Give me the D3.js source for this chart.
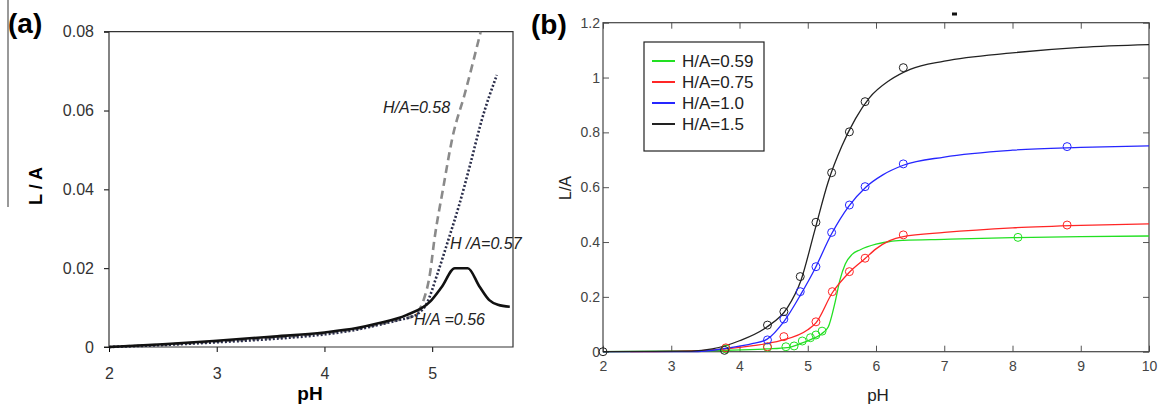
<!DOCTYPE html>
<html>
<head>
<meta charset="utf-8">
<script src="https://cdn.jsdelivr.net/npm/d3@7"></script>
<style>
  body { margin: 0; background: #fff; }
  svg { display: block; font-family: "Liberation Sans", Arial, sans-serif; }
</style>
</head>
<body>
<svg id="chart" width="1164" height="409"></svg>
<script>
// ---- panel (a) data ----
const phA56 = [2, 2.5, 3, 3.5, 4, 4.3, 4.5, 4.76, 4.98, 5.09, 5.21, 5.33, 5.44, 5.53, 5.61, 5.72];
const laA56 = [0, 0.0007, 0.0016, 0.0026, 0.0037, 0.0048, 0.006, 0.0081, 0.0115, 0.0153, 0.02, 0.02, 0.0153, 0.0119, 0.0107, 0.0102];

const phA57 = [2, 2.5, 3, 3.5, 4, 4.3, 4.5, 4.7, 4.8, 4.87, 4.95, 5.05, 5.15, 5.25, 5.35, 5.46, 5.6];
const laA57 = [0, 0.0005, 0.0012, 0.002, 0.0032, 0.0044, 0.0056, 0.0069, 0.0076, 0.0085, 0.0111, 0.0187, 0.0272, 0.036, 0.046, 0.0576, 0.069];

const phA58 = [2, 2.5, 3, 3.5, 4, 4.3, 4.5, 4.7, 4.82, 4.92, 4.98, 5.02, 5.1, 5.19, 5.3, 5.45];
const laA58 = [0, 0.0006, 0.0014, 0.0023, 0.0035, 0.0046, 0.0057, 0.007, 0.0078, 0.0119, 0.0187, 0.0272, 0.04, 0.0534, 0.064, 0.08];

const xTicksA = [2, 3, 4, 5];
const yTicksA = [0, 0.02, 0.04, 0.06, 0.08];
const labelsA = ['H/A=0.58', 'H /A=0.57', 'H/A =0.56'];

// ---- panel (b) data ----
const seriesB = ['H/A=0.59', 'H/A=0.75', 'H/A=1.0', 'H/A=1.5'];
const colorsB = ['#22e022', '#ff2626', '#2626ff', '#222222'];

const phG = [2, 3, 3.8, 4.4, 4.7, 4.9, 5.05, 5.2, 5.3, 5.4, 5.47, 5.55, 5.65, 5.77, 6.0, 6.2, 6.4, 7, 8, 9, 10];
const laG = [0, 0.002, 0.005, 0.01, 0.015, 0.03, 0.045, 0.065, 0.09, 0.18, 0.26, 0.32, 0.355, 0.372, 0.392, 0.402, 0.406, 0.41, 0.416, 0.42, 0.422];

const phR = [2.4, 3.2, 3.8, 4.2, 4.6, 5.0, 5.12, 5.36, 5.61, 5.84, 6.0, 6.2, 6.4, 7, 8, 9, 10];
const laR = [0, 0.002, 0.01, 0.022, 0.04, 0.08, 0.105, 0.215, 0.29, 0.34, 0.375, 0.405, 0.42, 0.435, 0.452, 0.461, 0.466];

const phBl = [2, 3.3, 3.8, 4.2, 4.4, 4.65, 4.9, 5.1, 5.35, 5.6, 5.85, 6.1, 6.4, 7, 8, 9, 10];
const laBl = [0, 0, 0.012, 0.03, 0.045, 0.11, 0.21, 0.3, 0.43, 0.53, 0.6, 0.645, 0.68, 0.71, 0.735, 0.745, 0.751];

const phK = [2, 3.3, 3.6, 4.0, 4.4, 4.7, 4.9, 5.1, 5.3, 5.5, 5.7, 5.9, 6.2, 6.5, 7, 8, 9, 10];
const laK = [0, 0.002, 0.01, 0.04, 0.09, 0.16, 0.26, 0.44, 0.62, 0.75, 0.85, 0.925, 0.99, 1.03, 1.06, 1.09, 1.11, 1.12];

// measured points (circles)
const ptsG = [[3.80, 0.01], [4.41, 0.016], [4.68, 0.018], [4.80, 0.021], [4.92, 0.039], [5.04, 0.051], [5.12, 0.061], [5.21, 0.075], [8.08, 0.417]];
const ptsR = [[3.80, 0.014], [4.41, 0.018], [4.65, 0.055], [5.12, 0.109], [5.36, 0.219], [5.61, 0.292], [5.84, 0.341], [6.40, 0.426], [8.80, 0.462]];
const ptsBl = [[4.41, 0.043], [4.65, 0.119], [4.89, 0.219], [5.12, 0.31], [5.35, 0.435], [5.61, 0.535], [5.84, 0.602], [6.40, 0.685], [8.80, 0.748]];
const ptsK = [[2.0, 0.0], [3.78, 0.005], [4.41, 0.097], [4.65, 0.146], [4.89, 0.274], [5.12, 0.472], [5.35, 0.653], [5.61, 0.802], [5.84, 0.912], [6.40, 1.036]];

const xTicksB = d3.range(2, 11, 1);
const yTicksB = [0, 0.2, 0.4, 0.6, 0.8, 1, 1.2];

const zip = (xs, ys) => xs.map((x, i) => [x, ys[i]]);

const svg = d3.select('#chart');

// =============== panel (a) ===============
const xA = d3.scaleLinear().domain([2, 5.75]).range([109, 513]);
const yA = d3.scaleLinear().domain([0, 0.08]).range([347, 31.7]);
const gA = svg.append('g');

// stray frame line at far left
gA.append('line').attr('x1', 8).attr('x2', 8).attr('y1', 0).attr('y2', 207)
    .attr('stroke', '#555').attr('stroke-width', 1.2);

gA.append('g')
    .attr('transform', `translate(0,${yA(0)})`)
    .call(d3.axisBottom(xA).tickValues(xTicksA).tickSize(5).tickPadding(16).tickFormat(d3.format('d')))
    .call(g => g.select('.domain').remove())
    .call(g => g.selectAll('text').attr('font-size', 16).attr('fill', '#333').attr('font-family', null));

gA.append('g')
    .attr('transform', `translate(${xA(2)},0)`)
    .call(d3.axisLeft(yA).tickValues(yTicksA).tickSize(5).tickPadding(10)
        .tickFormat(d => d === 0 ? '0' : d3.format('.2f')(d)))
    .call(g => g.select('.domain').remove())
    .call(g => g.selectAll('text').attr('font-size', 16).attr('fill', '#333').attr('font-family', null));

// frame
const x0a = xA(2), x1a = xA(5.75), y0a = yA(0), y1a = yA(0.08);
gA.append('path')
    .attr('d', `M${x0a - 5},${y1a}H${x1a}V${y0a}H${x0a - 5}M${x0a},${y1a}V${y0a}`)
    .attr('fill', 'none').attr('stroke', '#333').attr('stroke-width', 1.2);

const lineA = d3.line().x(d => xA(d[0])).y(d => yA(d[1])).curve(d3.curveMonotoneX);

gA.append('path').datum(zip(phA58, laA58)).attr('d', lineA)
    .attr('fill', 'none').attr('stroke', '#8a8a8a').attr('stroke-width', 2.6).attr('stroke-dasharray', '8,5');
gA.append('path').datum(zip(phA57, laA57)).attr('d', lineA)
    .attr('fill', 'none').attr('stroke', '#2a2d4a').attr('stroke-width', 2.6).attr('stroke-dasharray', '2,2');
gA.append('path').datum(zip(phA56, laA56)).attr('d', lineA)
    .attr('fill', 'none').attr('stroke', '#111').attr('stroke-width', 2.6);

// curve labels
const labelPosA = [[383, 113], [450, 249], [414, 325]];
gA.selectAll('text.lab').data(labelsA).enter().append('text')
    .attr('class', 'lab')
    .attr('x', (d, i) => labelPosA[i][0]).attr('y', (d, i) => labelPosA[i][1])
    .attr('font-size', 16).attr('font-style', 'italic').attr('fill', '#222')
    .text(d => d);

gA.append('text').attr('x', 310).attr('y', 400).attr('text-anchor', 'middle')
    .attr('font-size', 19).attr('font-weight', 'bold').text('pH');
gA.append('text').attr('transform', 'translate(42,186) rotate(-90)').attr('text-anchor', 'middle')
    .attr('font-size', 18).attr('font-weight', 'bold').text('L / A');
gA.append('text').attr('x', 8).attr('y', 33).attr('font-size', 28).attr('font-weight', 'bold').text('(a)');

// =============== panel (b) ===============
const xB = d3.scaleLinear().domain([2, 10]).range([603, 1149]);
const yB = d3.scaleLinear().domain([0, 1.2]).range([351.7, 22.7]);
const gB = svg.append('g');

const tickStyle = g => g.call(s => s.select('.domain').remove())
    .call(s => s.selectAll('line').attr('stroke', '#555'))
    .call(s => s.selectAll('text').attr('font-size', 14).attr('fill', '#444').attr('font-family', null));

gB.append('g').attr('transform', `translate(0,${yB(0)})`)
    .call(d3.axisBottom(xB).tickValues(xTicksB).tickSize(-6).tickPadding(9).tickFormat(d3.format('d')))
    .call(tickStyle);
gB.append('g').attr('transform', `translate(0,${yB(1.2)})`)
    .call(d3.axisTop(xB).tickValues(xTicksB).tickSize(-6).tickFormat(''))
    .call(tickStyle);
gB.append('g').attr('transform', `translate(${xB(2)},0)`)
    .call(d3.axisLeft(yB).tickValues(yTicksB).tickSize(-6).tickPadding(3).tickFormat(d => d3.format('~g')(d)))
    .call(tickStyle);
gB.append('g').attr('transform', `translate(${xB(10)},0)`)
    .call(d3.axisRight(yB).tickValues(yTicksB).tickSize(-6).tickFormat(''))
    .call(tickStyle);

gB.append('rect').attr('x', xB(2)).attr('y', yB(1.2))
    .attr('width', xB(10) - xB(2)).attr('height', yB(0) - yB(1.2))
    .attr('fill', 'none').attr('stroke', '#444').attr('stroke-width', 1.2);

const lineB = d3.line().x(d => xB(d[0])).y(d => yB(d[1])).curve(d3.curveMonotoneX);
const curvesB = [zip(phG, laG), zip(phR, laR), zip(phBl, laBl), zip(phK, laK)];
const pointsB = [ptsG, ptsR, ptsBl, ptsK];

curvesB.forEach((c, i) => {
    gB.append('path').datum(c).attr('d', lineB)
        .attr('fill', 'none').attr('stroke', colorsB[i]).attr('stroke-width', 1.3);
});
pointsB.forEach((p, i) => {
    gB.selectAll(null).data(p).enter().append('circle')
        .attr('cx', d => xB(d[0])).attr('cy', d => yB(d[1])).attr('r', 4)
        .attr('fill', 'none').attr('stroke', colorsB[i]).attr('stroke-width', 1);
});

// legend
const leg = gB.append('g');
leg.append('rect').attr('x', 644).attr('y', 42).attr('width', 120).attr('height', 109)
    .attr('fill', '#fff').attr('stroke', '#222').attr('stroke-width', 1.2);
seriesB.forEach((s, i) => {
    const cy = 61 + i * 21;
    leg.append('line').attr('x1', 652).attr('x2', 675).attr('y1', cy).attr('y2', cy)
        .attr('stroke', colorsB[i]).attr('stroke-width', 2);
    leg.append('text').attr('x', 682).attr('y', cy + 6).attr('font-size', 17).attr('fill', '#222').text(s);
});

gB.append('text').attr('x', 878).attr('y', 401).attr('text-anchor', 'middle')
    .attr('font-size', 17).attr('fill', '#222').text('pH');
gB.append('text').attr('transform', 'translate(571,188) rotate(-90)').attr('text-anchor', 'middle')
    .attr('font-size', 16).attr('fill', '#222').text('L/A');
gB.append('text').attr('x', 531).attr('y', 34).attr('font-size', 28).attr('font-weight', 'bold').text('(b)');
// small stray mark above the frame
gB.append('rect').attr('x', 952).attr('y', 12.5).attr('width', 5).attr('height', 3).attr('fill', '#111');
</script>
</body>
</html>
